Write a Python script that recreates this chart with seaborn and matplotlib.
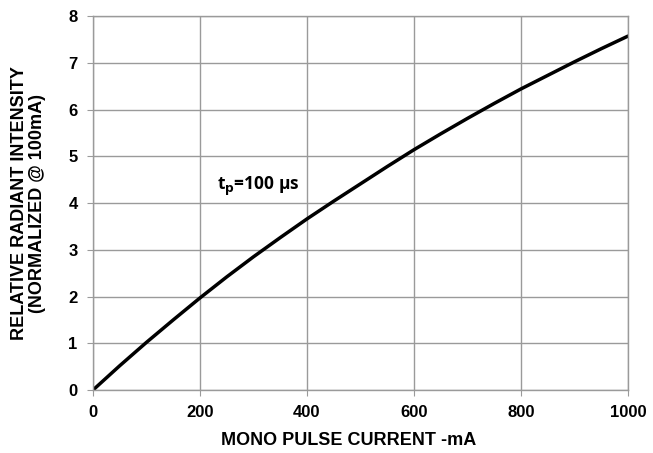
import pandas as pd
import seaborn as sns
import matplotlib.pyplot as plt

sns.set_style("white")
plt.rcParams['font.family'] = ['Liberation Sans', 'DejaVu Sans']
plt.rcParams['text.color'] = 'black'
plt.rcParams['axes.labelcolor'] = 'black'
plt.rcParams['xtick.labelcolor'] = 'black'
plt.rcParams['ytick.labelcolor'] = 'black'

# Values
current_ma = [0, 50, 100, 150, 200, 250, 300, 350, 400, 450, 500, 550, 600, 650, 700, 750, 800, 850, 900, 950, 1000]
intensity = [0.0, 0.52, 1.02, 1.50, 1.97, 2.42, 2.85, 3.26, 3.66, 4.04, 4.41, 4.78, 5.14, 5.48, 5.81, 6.13, 6.44, 6.73, 7.02, 7.30, 7.57]

df = pd.DataFrame({"current": current_ma, "intensity": intensity})

fig = plt.figure(figsize=(6.53, 4.53), dpi=100)
ax = fig.add_axes([0.1424, 0.139, 0.8193, 0.8257])

sns.lineplot(df, x="current", y="intensity", color="black", linewidth=2.5, ax=ax)

ax.set_xlim(0, 1000)
ax.set_ylim(0, 8)
ax.set_xticks(range(0, 1001, 200))
ax.set_yticks(range(0, 9))
ax.grid(True, color="#9a9a9a", linewidth=1.0)
for s in ax.spines.values():
    s.set_color("#9a9a9a")
    s.set_linewidth(1.0)
ax.tick_params(axis="both", which="both", length=4, color="#9a9a9a",
               labelsize=12, labelcolor="black", direction="out", left=True, bottom=True)
ax.tick_params(axis="x", pad=6.5)
ax.tick_params(axis="y", pad=7)
for lbl in ax.get_xticklabels() + ax.get_yticklabels():
    lbl.set_fontweight("bold")

ax.set_xlabel("MONO PULSE CURRENT -mA", fontsize=13, fontweight="bold", color="black")
ax.set_ylabel("RELATIVE RADIANT INTENSITY\n(NORMALIZED @ 100mA)", fontsize=13,
              fontweight="bold", linespacing=1.05, color="black")
ax.xaxis.set_label_coords(0.477, -0.112)
ax.yaxis.set_label_coords(-0.088, 0.5)

ax.text(232, 4.36, r"t$_\mathbf{p}$=100 µs", fontsize=12.5, fontweight="bold",
        family=["Open Sans", "DejaVu Sans"], ha="left", va="center", color="black")

fig.savefig("out.png", dpi=100)
